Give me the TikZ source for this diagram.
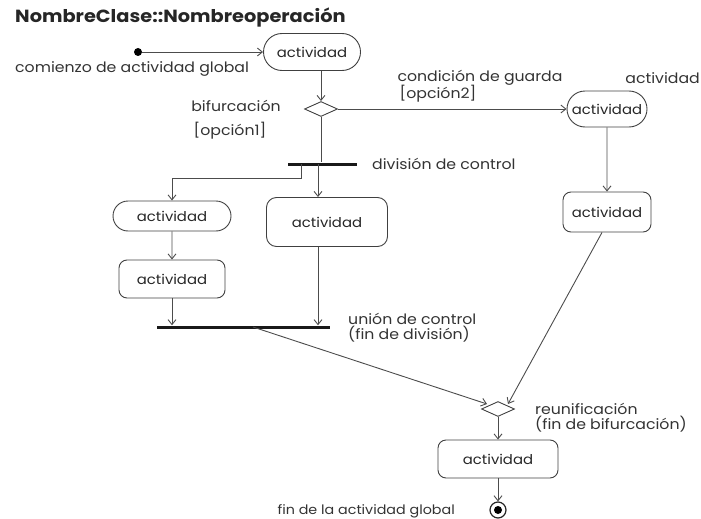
\documentclass[tikz,border=0pt]{standalone}
\usepackage{fontspec}
\setmainfont{Poppins}[FakeStretch=1.1]
\usetikzlibrary{shapes.geometric,shapes.misc,arrows.meta}

\begin{document}
\begin{tikzpicture}[x=1pt,y=-1pt,
  conn/.style={draw=black!70, line width=0.9pt},
  arr/.style={conn, -{Straight Barb[length=5pt,width=8pt]}},
  actfont/.style={font=\fontsize{13.5}{15}\selectfont, text=black!85},
  stadium/.style={rounded rectangle, draw=black!75, line width=0.9pt, inner sep=0pt, actfont},
  actbox/.style={rectangle, rounded corners=8pt, draw=black!75, line width=0.9pt, inner sep=0pt, actfont},
  lbl/.style={font=\fontsize{14.3}{16}\selectfont, text=black!80, inner sep=0pt},
  choice/.style={diamond, draw=black!75, line width=0.9pt, inner sep=0pt, minimum width=33pt, minimum height=15pt},
  syncbar/.style={rectangle, fill=black!90, inner sep=0pt, minimum height=3pt}
]
\useasboundingbox (0,0) rectangle (701,519);

% title
\node[font=\fontsize{17.6}{20}\selectfont\bfseries, text=black!85, anchor=west, inner sep=0pt] (title) at (15,18) {NombreClase::Nombreoperación};

% start and first activity
\node[circle, fill=black, inner sep=0pt, minimum size=8pt] (start) at (138,52) {};
\node[stadium, minimum width=97pt, minimum height=37pt] (act0) at (312,52) {actividad};
\node[lbl, anchor=west] (lstart) at (15,69) {comienzo de actividad global};
\draw[arr] (start) -- (act0);

% first decision
\node[choice] (dec) at (321,109) {};
\node[lbl] (lbif) at (236,106) {bifurcación};
\node[lbl] (lop1) at (230,131) {[opción1]};
\draw[arr] (dec.north |- act0.south) -- (dec.north);

% right branch
\node[stadium, minimum width=80pt, minimum height=36pt] (actR1) at (607,109) {actividad};
\node[lbl] (lguard) at (480,78) {condición de guarda};
\node[lbl] (lop2) at (438,94) {[opción2]};
\node[lbl, anchor=east] (lact) at (700,78) {actividad};
\draw[arr] (dec.east) -- (actR1.west);
\node[actbox, minimum width=88pt, minimum height=40pt] (actR2) at (607,212) {actividad};
\draw[arr] (actR1) -- (actR2);

% fork
\node[syncbar, minimum width=69pt] (fork) at (322.5,164) {};
\node[lbl, anchor=west] (lfork) at (372,164) {división de control};
\draw[conn] (dec.south) -- (fork.north -| dec.south);

\node[stadium, minimum width=118pt, minimum height=30pt] (actL1) at (172,216) {actividad};
\node[actbox, minimum width=106pt, minimum height=38pt] (actL2) at (172,279) {actividad};
\node[actbox, rounded corners=10pt, minimum width=121pt, minimum height=49pt] (actM) at (327,222) {actividad};

\coordinate (fL) at (301,164);
\coordinate (fM) at (318,164);
\draw[arr] (fL) -- (301,178) -- (172,178) -- (actL1.north);
\draw[arr] (fM) -- (fM |- actM.north);
\draw[arr] (actL1) -- (actL2);

% join
\node[syncbar, minimum width=173pt] (join) at (243.5,327) {};
\node[lbl, anchor=west] (ljoin1) at (348,319) {unión de control};
\node[lbl, anchor=west] (ljoin2) at (348,334) {(fin de división)};
\draw[arr] (actL2.south) -- (actL2.south |- join.north);
\draw[arr] (actM.south -| fM) -- (fM |- join.north);

% merge
\node[choice] (merge) at (498,409) {};
\node[lbl, anchor=west] (lmerge1) at (535,409) {reunificación};
\node[lbl, anchor=west] (lmerge2) at (535,424) {(fin de bifurcación)};
\coordinate (jout) at (253,327);
\draw[arr] (jout) -- (487,404);
\draw[arr] (actR2.south) ++(-5,0) -- (508,404);

% final activity and end
\node[actbox, minimum width=120pt, minimum height=38pt] (actF) at (498,459) {actividad};
\draw[arr] (merge.south) -- (actF.north);
\node[circle, draw=black!85, line width=1.2pt, minimum size=16pt, inner sep=0pt] (endo) at (498,510) {};
\node[circle, fill=black, minimum size=8pt, inner sep=0pt] (endi) at (498,510) {};
\node[lbl, font=\fontsize{13}{15}\selectfont, anchor=east] (lend) at (455,511) {fin de la actividad global};
\draw[arr] (actF.south) -- (endo.north);
\end{tikzpicture}
\end{document}
